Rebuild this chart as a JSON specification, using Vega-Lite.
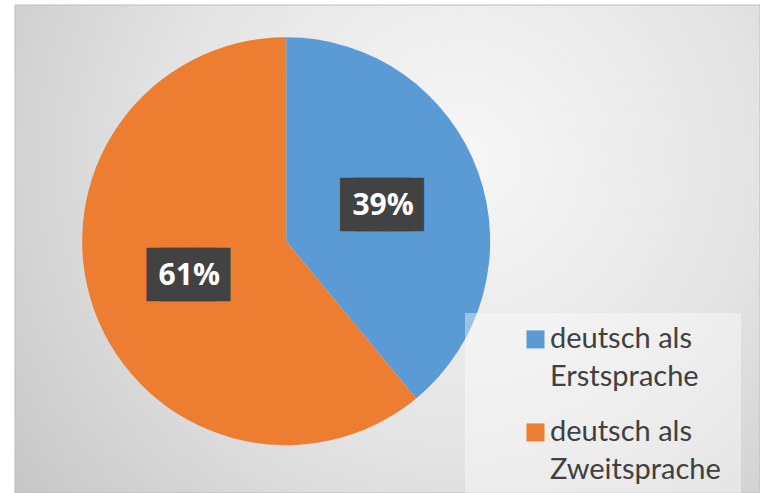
{
  "$schema": "https://vega.github.io/schema/vega-lite/v6.json",
  "width": 745,
  "height": 488,
  "autosize": {"type": "none"},
  "padding": {"left": 15, "top": 5, "right": 0, "bottom": 0},
  "background": "white",
  "config": {
    "view": {"stroke": null},
    "style": {"guide-label": {"lineHeight": 38}}
  },
  "data": {
    "values": [
      {"kategorie": "deutsch als Erstsprache", "anteil": 39, "label": "39%", "ord": 1},
      {"kategorie": "deutsch als Zweitsprache", "anteil": 61, "label": "61%", "ord": 2}
    ]
  },
  "layer": [
    {
      "data": {"values": [{"bg": 1}]},
      "mark": {
        "type": "rect",
        "stroke": "#bdbdbd",
        "strokeWidth": 1,
        "fill": {
          "gradient": "radial",
          "x1": 0.6, "y1": 0.38, "r1": 0,
          "x2": 0.6, "y2": 0.38, "r2": 0.78,
          "stops": [
            {"offset": 0, "color": "#f7f7f7"},
            {"offset": 0.5, "color": "#e4e4e4"},
            {"offset": 1, "color": "#c4c4c4"}
          ]
        }
      },
      "encoding": {}
    },
    {
      "mark": {"type": "arc", "outerRadius": 204, "x": {"expr": "width*0.364"}, "y": {"expr": "height*0.484"}},
      "encoding": {
        "theta": {"field": "anteil", "type": "quantitative", "stack": true},
        "order": {"field": "ord", "type": "quantitative"},
        "color": {
          "field": "kategorie",
          "type": "nominal",
          "scale": {"domain": ["deutsch als Erstsprache", "deutsch als Zweitsprache"], "range": ["#5b9bd5", "#ed7d31"]},
          "legend": {
            "orient": "none",
            "legendX": 450,
            "legendY": 308,
            "padding": 20,
            "fillColor": "rgba(255,255,255,0.4)",
            "title": null,
            "symbolType": "M-1,-1.9H1V0.1H-1Z",
            "symbolSize": 324,
            "symbolStrokeWidth": 0,
            "symbolOffset": 36,
            "labelFont": "Lato",
            "labelFontSize": 29,
            "labelColor": "#404040",
            "labelOffset": 0,
            "labelBaseline": "alphabetic",
            "labelLimit": 300,
            "rowPadding": 25,
            "labelExpr": "[slice(datum.label,0,11), slice(datum.label,12)]"
          }
        }
      }
    },
    {
      "mark": {"type": "text", "radius": 103, "text": "██", "x": {"expr": "width*0.364"}, "y": {"expr": "height*0.484"}, "dx": -8, "color": "#424242", "font": "DejaVu Sans", "fontSize": 45, "baseline": "middle", "align": "center"},
      "encoding": {
        "theta": {"field": "anteil", "type": "quantitative", "stack": true},
        "order": {"field": "ord", "type": "quantitative"}
      }
    },
    {
      "mark": {"type": "text", "radius": 103, "text": "██", "x": {"expr": "width*0.364"}, "y": {"expr": "height*0.484"}, "dx": 6, "color": "#424242", "font": "DejaVu Sans", "fontSize": 45, "baseline": "middle", "align": "center"},
      "encoding": {
        "theta": {"field": "anteil", "type": "quantitative", "stack": true},
        "order": {"field": "ord", "type": "quantitative"}
      }
    },
    {
      "mark": {"type": "text", "radius": 103, "x": {"expr": "width*0.364"}, "y": {"expr": "height*0.484"}, "color": "white", "font": "Open Sans", "fontWeight": "bold", "fontSize": 30, "baseline": "middle", "align": "center"},
      "encoding": {
        "theta": {"field": "anteil", "type": "quantitative", "stack": true},
        "order": {"field": "ord", "type": "quantitative"},
        "text": {"field": "label"}
      }
    }
  ]
}
